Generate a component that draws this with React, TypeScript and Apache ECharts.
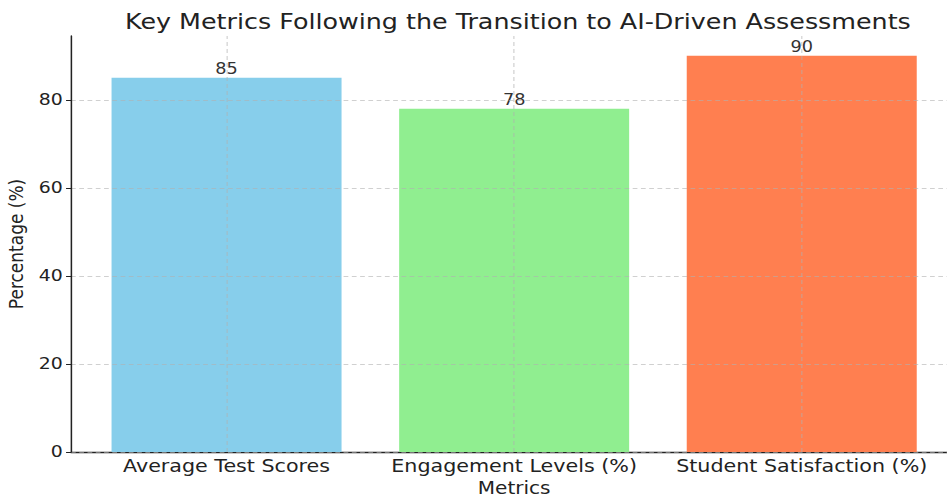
import React, { useEffect, useRef } from "react";
import * as echarts from "echarts";

const categories = ["Average Test Scores", "Engagement Levels (%)", "Student Satisfaction (%)"];
const values = [85, 78, 90];
const barColors = ["#87CEEB", "#90EE90", "#FF7F50"];
const yTicks = [0, 20, 40, 60, 80];
const titleText = "Key Metrics Following the Transition to AI-Driven Assessments";

const FONT = "DejaVu Sans";
const GRID_COLOR = "rgba(176,176,176,0.6)";
const S = 1.18; // horizontal stretch of the reference picture
const W = 947 / S;

export default function App() {
  const ref = useRef<HTMLDivElement>(null);
  useEffect(() => {
    if (!ref.current) return;
    const chart = echarts.init(ref.current, null, { renderer: "svg" });
    chart.setOption({
      animation: false,
      textStyle: { fontFamily: FONT },
      title: {
        text: titleText,
        left: 101,
        top: 6,
        textStyle: { fontFamily: FONT, fontSize: 21.5, fontWeight: "normal", color: "#222" },
      },
      grid: [
        { left: 71 / S, right: W - 956 / S, top: 36, bottom: 45, outerBoundsMode: "none" },
        { left: 82.75 / S, right: W - 945 / S, top: 36, bottom: 45, outerBoundsMode: "none" },
      ],
      xAxis: [
        {
          type: "value",
          gridIndex: 0,
          min: 0,
          max: 1,
          axisLine: { show: true, lineStyle: { color: "#222", width: 1.3 } },
          axisTick: { show: false },
          axisLabel: { show: false },
          splitLine: { show: false },
        },
        {
          type: "category",
          gridIndex: 1,
          data: categories,
          axisLine: { show: false },
          axisTick: { show: false },
          axisLabel: { fontFamily: FONT, fontSize: 17.5, color: "#222", margin: 5, interval: 0, hideOverlap: false },
          splitLine: { show: false },
          name: "Metrics",
          nameLocation: "middle",
          nameGap: 24,
          nameTextStyle: { fontFamily: FONT, fontSize: 17, color: "#222", lineHeight: 17 },
        },
      ],
      yAxis: [
        {
          type: "value",
          gridIndex: 0,
          min: 0,
          max: 94.5,
          interval: 20,
          z: 3,
          axisLine: { show: true, lineStyle: { color: "#222", width: 1.3 } },
          axisTick: { show: true, length: 4.2, customValues: yTicks, lineStyle: { color: "#222" } },
          axisLabel: { fontFamily: FONT, fontSize: 16, color: "#222", margin: 7, customValues: yTicks },
          splitLine: {
            show: true,
            lineStyle: { type: [4, 3], color: GRID_COLOR, width: 1 },
          },
          name: "Percentage (%)",
          nameLocation: "middle",
          nameGap: 31,
          nameTextStyle: { fontFamily: FONT, fontSize: 17, color: "#222" },
        },
        {
          type: "value",
          gridIndex: 1,
          min: 0,
          max: 94.5,
          show: false,
          splitLine: { show: false },
        },
      ],
      series: [
        {
          type: "bar",
          xAxisIndex: 1,
          yAxisIndex: 1,
          barWidth: 230 / S,
          data: values.map((v, i) => ({ value: v, itemStyle: { color: barColors[i] } })),
          label: {
            show: true,
            position: "top",
            distance: 1,
            fontFamily: FONT,
            fontSize: 15,
            color: "#333",
          },
          markLine: {
            silent: true,
            symbol: "none",
            label: { show: false },
            lineStyle: { type: [4, 3], color: GRID_COLOR, width: 1 },
            data: categories.map((c) => ({ xAxis: c })),
          },
        },
      ],
    });
    return () => chart.dispose();
  }, []);
  return (
    <div
      ref={ref}
      style={{
        width: W,
        height: 497,
        position: "absolute",
        left: 0,
        top: 0,
        transform: `scaleX(${S})`,
        transformOrigin: "0 0",
      }}
    />
  );
}
